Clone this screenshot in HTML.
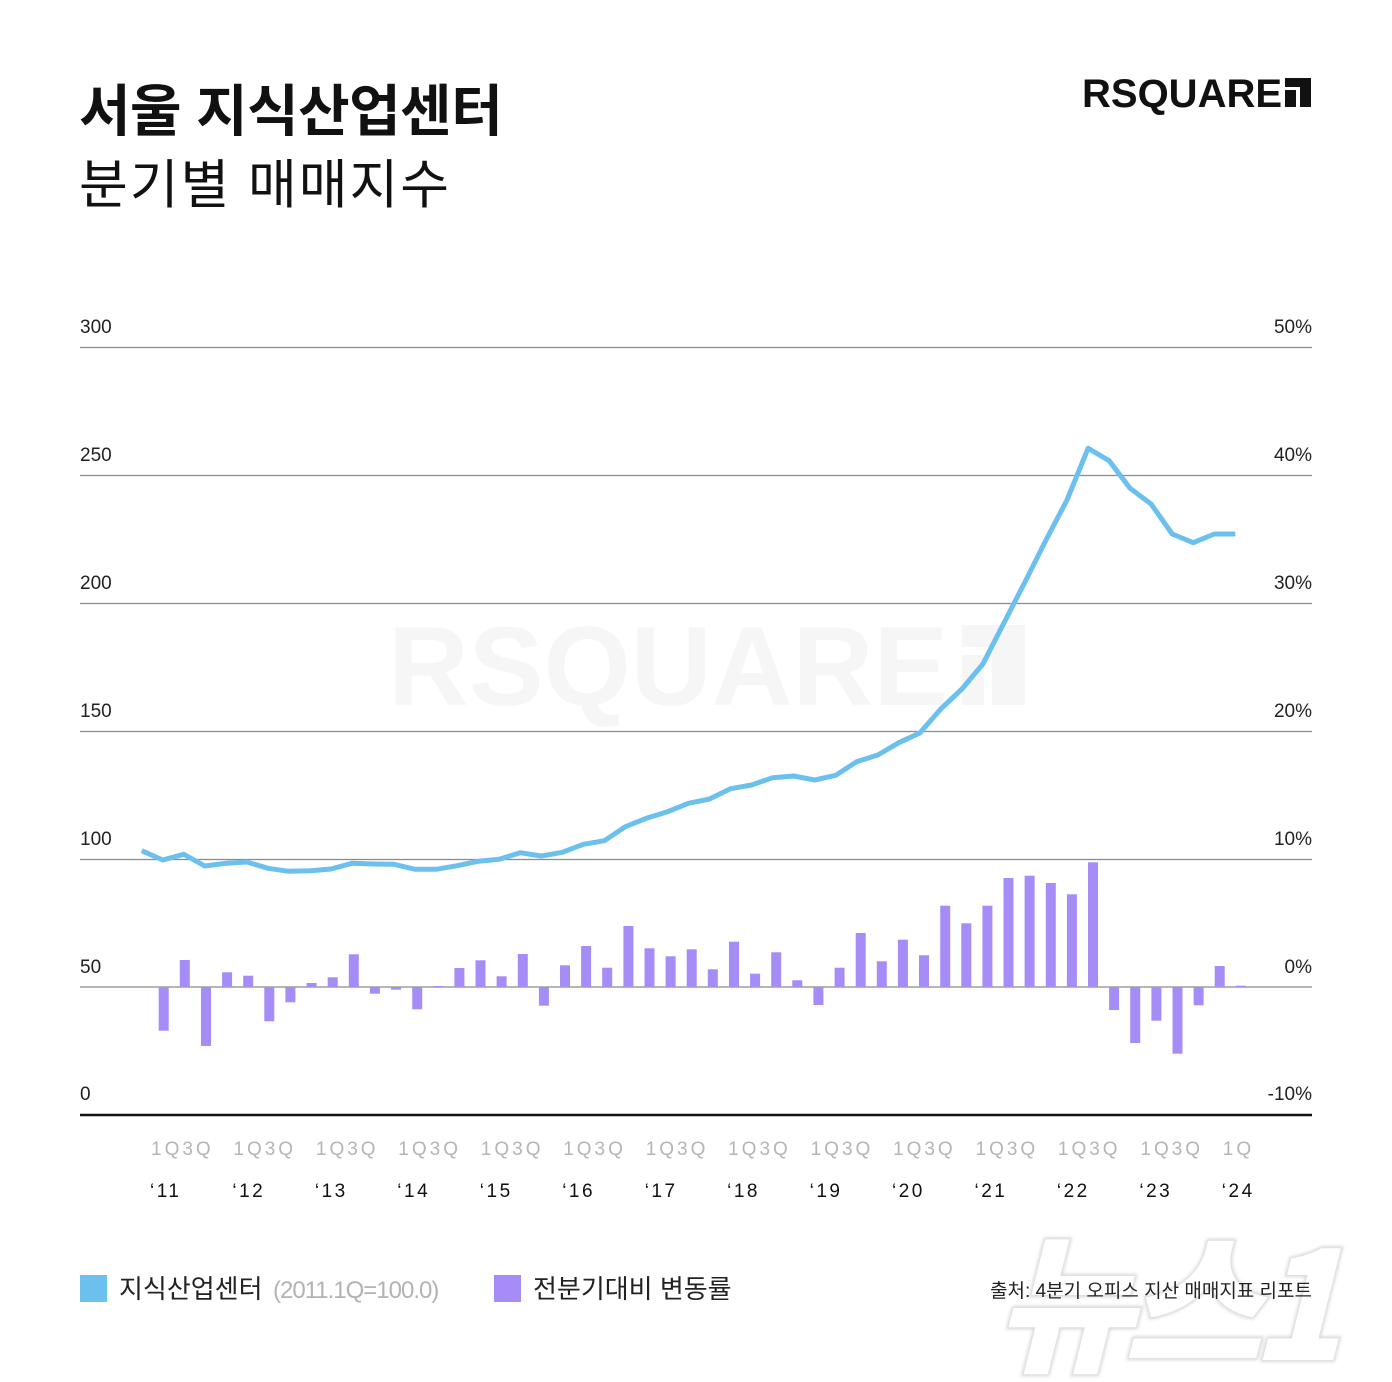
<!DOCTYPE html>
<html><head><meta charset="utf-8"><style>
html,body{margin:0;padding:0;background:#fff;}
svg{display:block;}
text{font-family:"Liberation Sans","Noto Sans CJK KR",sans-serif;}
</style></head><body>
<svg width="1392" height="1382" viewBox="0 0 1392 1382" xmlns="http://www.w3.org/2000/svg">
<defs>
<filter id="soft" x="-10%" y="-10%" width="120%" height="120%"><feGaussianBlur stdDeviation="1.5"/></filter>
</defs>
<rect width="1392" height="1382" fill="#fff"/>
<text x="388" y="705" font-size="112" font-weight="700" fill="#f6f6f6" style="font-family:'Liberation Sans',sans-serif">RSQUARE</text>
<g fill="#f6f6f6"><rect x="962" y="625" width="63" height="22"/><rect x="962" y="655" width="22" height="50"/><rect x="992" y="647" width="33" height="58"/></g>
<g transform="translate(995,1360) skewX(-14)">
<text x="0" y="0" font-size="150" font-weight="900" fill="none" stroke="#d8d8d8" stroke-width="4" filter="url(#soft)" style="font-family:'Noto Sans CJK KR',sans-serif;letter-spacing:-10px">뉴스1</text>
<text x="0" y="0" font-size="150" font-weight="900" fill="#ffffff" style="font-family:'Noto Sans CJK KR',sans-serif;letter-spacing:-10px">뉴스1</text>
</g>
<text x="79" y="131" font-size="56" font-weight="700" fill="#111" style="letter-spacing:-0.5px">서울 지식산업센터</text>
<text x="79" y="203" font-size="53" font-weight="400" fill="#111" style="letter-spacing:2px">분기별 매매지수</text>
<text x="1082" y="107" font-size="40" font-weight="700" fill="#111" style="font-family:'Liberation Sans',sans-serif">RSQUARE</text>
<g fill="#111"><rect x="1285" y="78" width="26" height="9"/><rect x="1285" y="90" width="11" height="17"/><rect x="1300" y="78" width="11" height="29"/></g>
<g stroke="#8a8a8a" stroke-width="1.2">
<line x1="80" y1="347.5" x2="1312" y2="347.5"/>
<line x1="80" y1="475.5" x2="1312" y2="475.5"/>
<line x1="80" y1="603.5" x2="1312" y2="603.5"/>
<line x1="80" y1="731.5" x2="1312" y2="731.5"/>
<line x1="80" y1="859.5" x2="1312" y2="859.5"/>
<line x1="80" y1="987" x2="1312" y2="987"/>
</g>
<line x1="80" y1="1115" x2="1312" y2="1115" stroke="#111" stroke-width="2.5"/>
<g font-size="19" fill="#222">
<text x="80" y="333">300</text>
<text x="80" y="461">250</text>
<text x="80" y="589">200</text>
<text x="80" y="717">150</text>
<text x="80" y="845">100</text>
<text x="80" y="973">50</text>
<text x="80" y="1100">0</text>
</g>
<g font-size="19" fill="#222" text-anchor="end">
<text x="1312" y="333">50%</text>
<text x="1312" y="461">40%</text>
<text x="1312" y="589">30%</text>
<text x="1312" y="717">20%</text>
<text x="1312" y="845">10%</text>
<text x="1312" y="973">0%</text>
<text x="1312" y="1100">-10%</text>
</g>
<g fill="#a68cf6">
<rect x="158.7" y="987" width="10" height="43.7"/>
<rect x="179.8" y="960" width="10" height="27"/>
<rect x="201.0" y="987" width="10" height="59"/>
<rect x="222.1" y="972.3" width="10" height="14.7"/>
<rect x="243.2" y="975.7" width="10" height="11.3"/>
<rect x="264.3" y="987" width="10" height="34.3"/>
<rect x="285.4" y="987" width="10" height="15.3"/>
<rect x="306.6" y="983" width="10" height="4"/>
<rect x="327.7" y="977.3" width="10" height="9.7"/>
<rect x="348.8" y="954.3" width="10" height="32.7"/>
<rect x="369.9" y="987" width="10" height="6.7"/>
<rect x="391.0" y="987" width="10" height="2.7"/>
<rect x="412.2" y="987" width="10" height="22.3"/>
<rect x="433.3" y="986" width="10" height="1"/>
<rect x="454.4" y="968" width="10" height="19"/>
<rect x="475.5" y="960.3" width="10" height="26.7"/>
<rect x="496.6" y="976.3" width="10" height="10.7"/>
<rect x="517.8" y="954" width="10" height="33"/>
<rect x="538.9" y="987" width="10" height="18.7"/>
<rect x="560.0" y="965.3" width="10" height="21.7"/>
<rect x="581.1" y="946" width="10" height="41"/>
<rect x="602.2" y="967.7" width="10" height="19.3"/>
<rect x="623.4" y="926" width="10" height="61"/>
<rect x="644.5" y="948.3" width="10" height="38.7"/>
<rect x="665.6" y="956.3" width="10" height="30.7"/>
<rect x="686.7" y="949.3" width="10" height="37.7"/>
<rect x="707.8" y="969.3" width="10" height="17.7"/>
<rect x="729.0" y="941.7" width="10" height="45.3"/>
<rect x="750.1" y="973.7" width="10" height="13.3"/>
<rect x="771.2" y="952.3" width="10" height="34.7"/>
<rect x="792.3" y="980.3" width="10" height="6.7"/>
<rect x="813.4" y="987" width="10" height="18"/>
<rect x="834.6" y="967.7" width="10" height="19.3"/>
<rect x="855.7" y="933" width="10" height="54"/>
<rect x="876.8" y="961.3" width="10" height="25.7"/>
<rect x="897.9" y="939.7" width="10" height="47.3"/>
<rect x="919.0" y="955.3" width="10" height="31.7"/>
<rect x="940.2" y="905.7" width="10" height="81.3"/>
<rect x="961.3" y="923.3" width="10" height="63.7"/>
<rect x="982.4" y="905.7" width="10" height="81.3"/>
<rect x="1003.5" y="878" width="10" height="109"/>
<rect x="1024.6" y="875.7" width="10" height="111.3"/>
<rect x="1045.8" y="883" width="10" height="104"/>
<rect x="1066.9" y="894.3" width="10" height="92.7"/>
<rect x="1088.0" y="862.3" width="10" height="124.7"/>
<rect x="1109.1" y="987" width="10" height="23"/>
<rect x="1130.2" y="987" width="10" height="56"/>
<rect x="1151.4" y="987" width="10" height="33.7"/>
<rect x="1172.5" y="987" width="10" height="66.7"/>
<rect x="1193.6" y="987" width="10" height="18.3"/>
<rect x="1214.7" y="966" width="10" height="21"/>
<rect x="1235.8" y="985.7" width="10" height="1.3"/>
</g>
<polyline fill="none" stroke="#6cc0ee" stroke-width="5" stroke-linejoin="round" points="141.7,850.7 162.7,860 183.8,854.3 204.8,866 225.8,863.3 246.9,862 267.9,868.3 288.9,871.3 310.0,870.7 331.0,869 352.0,863.3 373.0,864 394.1,864.3 415.1,869.3 436.1,869.3 457.2,865.7 478.2,861.3 499.2,859.3 520.2,852.7 541.3,856 562.3,852.3 583.3,844.3 604.4,840.7 625.4,826.7 646.4,818.3 667.5,811.7 688.5,803.3 709.5,799 730.5,788.7 751.6,785 772.6,777.7 793.6,776 814.7,780 835.7,775.3 856.7,761.7 877.8,755 898.8,742.7 919.8,733 940.8,709 961.9,689 982.9,664 1003.9,623 1025.0,582 1046.0,540 1067.0,500 1088.1,448.3 1109.1,460.7 1130.1,488.3 1151.1,504 1172.2,534 1193.2,542.7 1214.2,534 1235.3,534"/>
<g font-size="19" fill="#b5b5b5" style="letter-spacing:3px">
<text x="151" y="1155">1Q3Q</text>
<text x="233.4" y="1155">1Q3Q</text>
<text x="315.9" y="1155">1Q3Q</text>
<text x="398.3" y="1155">1Q3Q</text>
<text x="480.8" y="1155">1Q3Q</text>
<text x="563.2" y="1155">1Q3Q</text>
<text x="645.7" y="1155">1Q3Q</text>
<text x="728.1" y="1155">1Q3Q</text>
<text x="810.6" y="1155">1Q3Q</text>
<text x="893.0" y="1155">1Q3Q</text>
<text x="975.5" y="1155">1Q3Q</text>
<text x="1057.9" y="1155">1Q3Q</text>
<text x="1140.4" y="1155">1Q3Q</text>
<text x="1222.8" y="1155">1Q</text>
</g>
<g font-size="19" fill="#111" style="letter-spacing:2.5px">
<text x="150" y="1197">‘11</text>
<text x="232.4" y="1197">‘12</text>
<text x="314.9" y="1197">‘13</text>
<text x="397.3" y="1197">‘14</text>
<text x="479.8" y="1197">‘15</text>
<text x="562.2" y="1197">‘16</text>
<text x="644.7" y="1197">‘17</text>
<text x="727.1" y="1197">‘18</text>
<text x="809.6" y="1197">‘19</text>
<text x="892.0" y="1197">‘20</text>
<text x="974.5" y="1197">‘21</text>
<text x="1056.9" y="1197">‘22</text>
<text x="1139.4" y="1197">‘23</text>
<text x="1221.8" y="1197">‘24</text>
</g>
<rect x="80" y="1275" width="27" height="27" fill="#6cc0ee"/>
<text x="119" y="1298" font-size="26" fill="#222" style="letter-spacing:0px">지식산업센터</text>
<text x="273" y="1298" font-size="24" fill="#b3b3b3" style="letter-spacing:-1px">(2011.1Q=100.0)</text>
<rect x="494" y="1275" width="27" height="27" fill="#a68cf6"/>
<text x="533" y="1298" font-size="26" fill="#222" style="letter-spacing:0px">전분기대비 변동률</text>
<text x="1312" y="1297" font-size="19" fill="#222" text-anchor="end" style="letter-spacing:0px">출처: 4분기 오피스 지산 매매지표 리포트</text>
</svg>
</body></html>
